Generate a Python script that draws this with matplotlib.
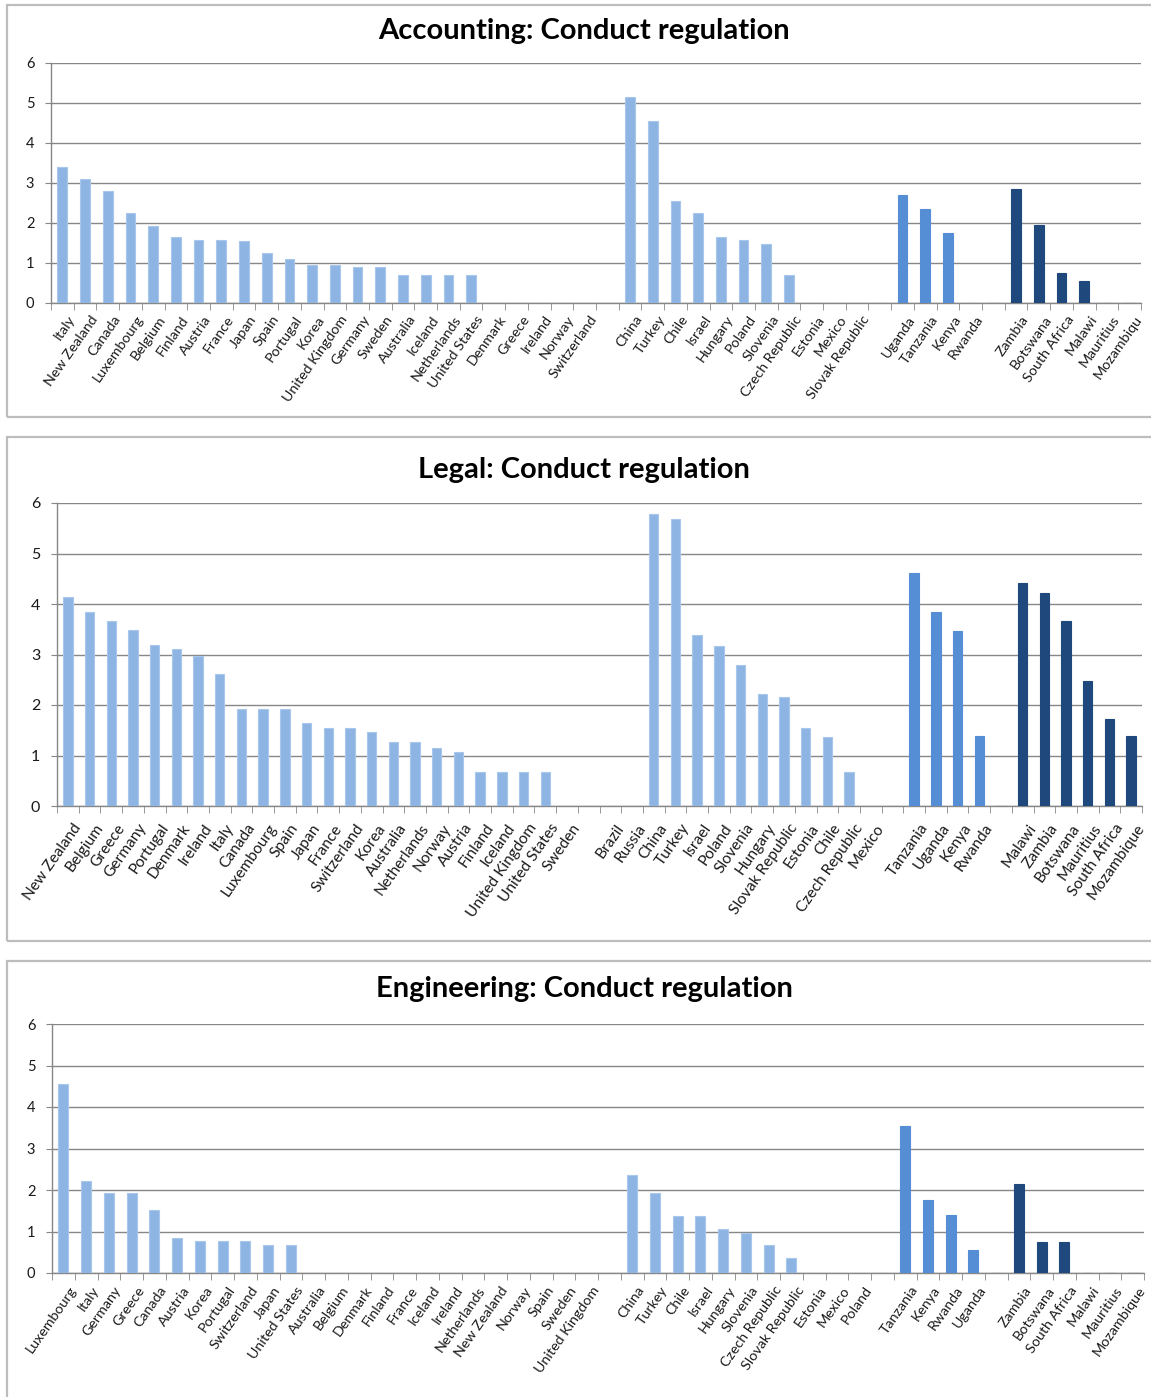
import matplotlib
matplotlib.use("Agg")
import matplotlib.pyplot as plt
from matplotlib.patches import Rectangle
from matplotlib import transforms

W, H = 1151, 1397
plt.rcParams['font.family'] = ['Lato', 'DejaVu Sans']

LIGHT = '#8EB4E3'
MID = '#558ED5'
DARK = '#1F497D'

# ---------------- Accounting ----------------
acc_g1_names = ["Italy", "New Zealand", "Canada", "Luxembourg", "Belgium", "Finland", "Austria",
                "France", "Japan", "Spain", "Portugal", "Korea", "United Kingdom", "Germany",
                "Sweden", "Australia", "Iceland", "Netherlands", "United States", "Denmark",
                "Greece", "Ireland", "Norway", "Switzerland"]
acc_g1_vals = [3.40, 3.10, 2.80, 2.24, 1.93, 1.65, 1.58, 1.58, 1.55, 1.26, 1.09, 0.96, 0.96, 0.89,
               0.89, 0.71, 0.71, 0.71, 0.71, 0, 0, 0, 0, 0]
acc_g2_names = ["China", "Turkey", "Chile", "Israel", "Hungary", "Poland", "Slovenia",
                "Czech Republic", "Estonia", "Mexico", "Slovak Republic"]
acc_g2_vals = [5.14, 4.54, 2.55, 2.24, 1.65, 1.58, 1.47, 0.71, 0, 0, 0]
acc_g3_names = ["Uganda", "Tanzania", "Kenya", "Rwanda"]
acc_g3_vals = [2.71, 2.36, 1.76, 0]
acc_g4_names = ["Zambia", "Botswana", "South Africa", "Malawi", "Mauritius", "Mozambiqu"]
acc_g4_vals = [2.85, 1.96, 0.76, 0.56, 0, 0]

# ---------------- Legal ----------------
leg_g1_names = ["New Zealand", "Belgium", "Greece", "Germany", "Portugal", "Denmark", "Ireland",
                "Italy", "Canada", "Luxembourg", "Spain", "Japan", "France", "Switzerland",
                "Korea", "Australia", "Netherlands", "Norway", "Austria", "Finland", "Iceland",
                "United Kingdom", "United States", "Sweden"]
leg_g1_vals = [4.14, 3.84, 3.67, 3.48, 3.18, 3.10, 2.98, 2.61, 1.93, 1.93, 1.93, 1.64, 1.54, 1.54,
               1.46, 1.27, 1.27, 1.14, 1.07, 0.68, 0.68, 0.68, 0.68, 0]
leg_g2_names = ["Brazil", "Russia", "China", "Turkey", "Israel", "Poland", "Slovenia", "Hungary",
                "Slovak Republic", "Estonia", "Chile", "Czech Republic", "Mexico"]
leg_g2_vals = [0, 0, 5.78, 5.68, 3.38, 3.16, 2.79, 2.22, 2.15, 1.54, 1.37, 0.68, 0]
leg_g3_names = ["Tanzania", "Uganda", "Kenya", "Rwanda"]
leg_g3_vals = [4.61, 3.85, 3.46, 1.38]
leg_g4_names = ["Malawi", "Zambia", "Botswana", "Mauritius", "South Africa", "Mozambique"]
leg_g4_vals = [4.41, 4.21, 3.66, 2.47, 1.72, 1.38]

# ---------------- Engineering ----------------
eng_g1_names = ["Luxembourg", "Italy", "Germany", "Greece", "Canada", "Austria", "Korea",
                "Portugal", "Switzerland", "Japan", "United States", "Australia", "Belgium",
                "Denmark", "Finland", "France", "Iceland", "Ireland", "Netherlands",
                "New Zealand", "Norway", "Spain", "Sweden", "United Kingdom"]
eng_g1_vals = [4.56, 2.22, 1.92, 1.92, 1.52, 0.85, 0.76, 0.76, 0.76, 0.68, 0.68, 0, 0, 0, 0, 0,
               0, 0, 0, 0, 0, 0, 0, 0]
eng_g2_names = ["China", "Turkey", "Chile", "Israel", "Hungary", "Slovenia", "Czech Republic",
                "Slovak Republic", "Estonia", "Mexico", "Poland"]
eng_g2_vals = [2.35, 1.92, 1.38, 1.38, 1.07, 0.96, 0.68, 0.36, 0, 0, 0]
eng_g3_names = ["Tanzania", "Kenya", "Rwanda", "Uganda"]
eng_g3_vals = [3.54, 1.76, 1.39, 0.55]
eng_g4_names = ["Zambia", "Botswana", "South Africa", "Malawi", "Mauritius", "Mozambique"]
eng_g4_vals = [2.14, 0.74, 0.74, 0, 0, 0]

y_ticks = [0, 1, 2, 3, 4, 5, 6]

panels = [
    dict(title="Accounting: Conduct regulation",
         groups=[(acc_g1_names, acc_g1_vals, LIGHT), (acc_g2_names, acc_g2_vals, LIGHT),
                 (acc_g3_names, acc_g3_vals, MID), (acc_g4_names, acc_g4_vals, DARK)],
         frame=(7, 5, 1170, 417), plot=(51, 63, 1141, 303), title_y=31,
         lab_fs=10.3, lab_pad=7.5, ytk_fs=10.5),
    dict(title="Legal: Conduct regulation",
         groups=[(leg_g1_names, leg_g1_vals, LIGHT), (leg_g2_names, leg_g2_vals, LIGHT),
                 (leg_g3_names, leg_g3_vals, MID), (leg_g4_names, leg_g4_vals, DARK)],
         frame=(7, 437, 1170, 941), plot=(57, 503, 1142, 806), title_y=470,
         lab_fs=11.2, lab_pad=11, ytk_fs=11.5),
    dict(title="Engineering: Conduct regulation",
         groups=[(eng_g1_names, eng_g1_vals, LIGHT), (eng_g2_names, eng_g2_vals, LIGHT),
                 (eng_g3_names, eng_g3_vals, MID), (eng_g4_names, eng_g4_vals, DARK)],
         frame=(7, 961, 1170, 1420), plot=(52, 1024, 1144, 1273), title_y=989,
         lab_fs=10.3, lab_pad=8, ytk_fs=10.5),
]

fig = plt.figure(figsize=(W / 100, H / 100), dpi=100)
fig.patch.set_facecolor('white')

GRID = '#878787'

for p in panels:
    fl, ft, fr, fb = p['frame']
    fig.patches.append(Rectangle((fl / W, 1 - fb / H), (fr - fl) / W, (fb - ft) / H,
                                 transform=fig.transFigure, fill=False,
                                 edgecolor='#BDBDBD', linewidth=1.6, zorder=0))
    fig.text(584 / W, 1 - p['title_y'] / H, p['title'], ha='center', va='center',
             fontsize=21, fontweight='bold', color='black')

    l, t, r, b = p['plot']
    ax = fig.add_axes([l / W, 1 - b / H, (r - l) / W, (b - t) / H])

    names, vals, cols = [], [], []
    for gi, (gn, gv, gc) in enumerate(p['groups']):
        if gi > 0:
            names.append("")
            vals.append(0)
            cols.append(gc)
        names.extend(gn)
        vals.extend(gv)
        cols.extend([gc] * len(gn))
    n = len(names)
    xs = list(range(n))
    edge = ['#A9C7EC' if c == LIGHT else c for c in cols]
    ax.bar(xs, vals, width=0.43, color=cols, edgecolor=edge, linewidth=0.8, zorder=3)

    ax.set_xlim(-0.5, n - 0.5)
    ax.set_ylim(0, 6)
    ax.set_yticks(y_ticks)
    ax.set_yticklabels([str(v) for v in y_ticks], fontsize=p['ytk_fs'], color='#1a1a1a')
    ax.yaxis.grid(True, color=GRID, linewidth=1.0, zorder=0)
    ax.set_axisbelow(True)
    for s in ['top', 'right']:
        ax.spines[s].set_visible(False)
    ax.spines['left'].set_color(GRID)
    ax.spines['bottom'].set_color(GRID)
    ax.spines['left'].set_linewidth(1.0)
    ax.spines['bottom'].set_linewidth(1.0)
    ax.tick_params(axis='y', length=4, color=GRID, pad=8)

    ax.set_xticks([i - 0.5 for i in range(n + 1)], minor=True)
    ax.set_xticks(xs)
    ax.tick_params(axis='x', which='minor', length=5, color=GRID, direction='out')
    ax.tick_params(axis='x', which='major', length=0, pad=p['lab_pad'])
    offset = transforms.ScaledTranslation(5 / 100, 0, fig.dpi_scale_trans)
    ax.set_xticklabels(names, rotation=55, ha='right', va='top', rotation_mode='anchor',
                       fontsize=p['lab_fs'], color='#1a1a1a')
    for lab in ax.get_xticklabels():
        lab.set_transform(lab.get_transform() + offset)

fig.savefig("out.png", dpi=100, facecolor='white')
